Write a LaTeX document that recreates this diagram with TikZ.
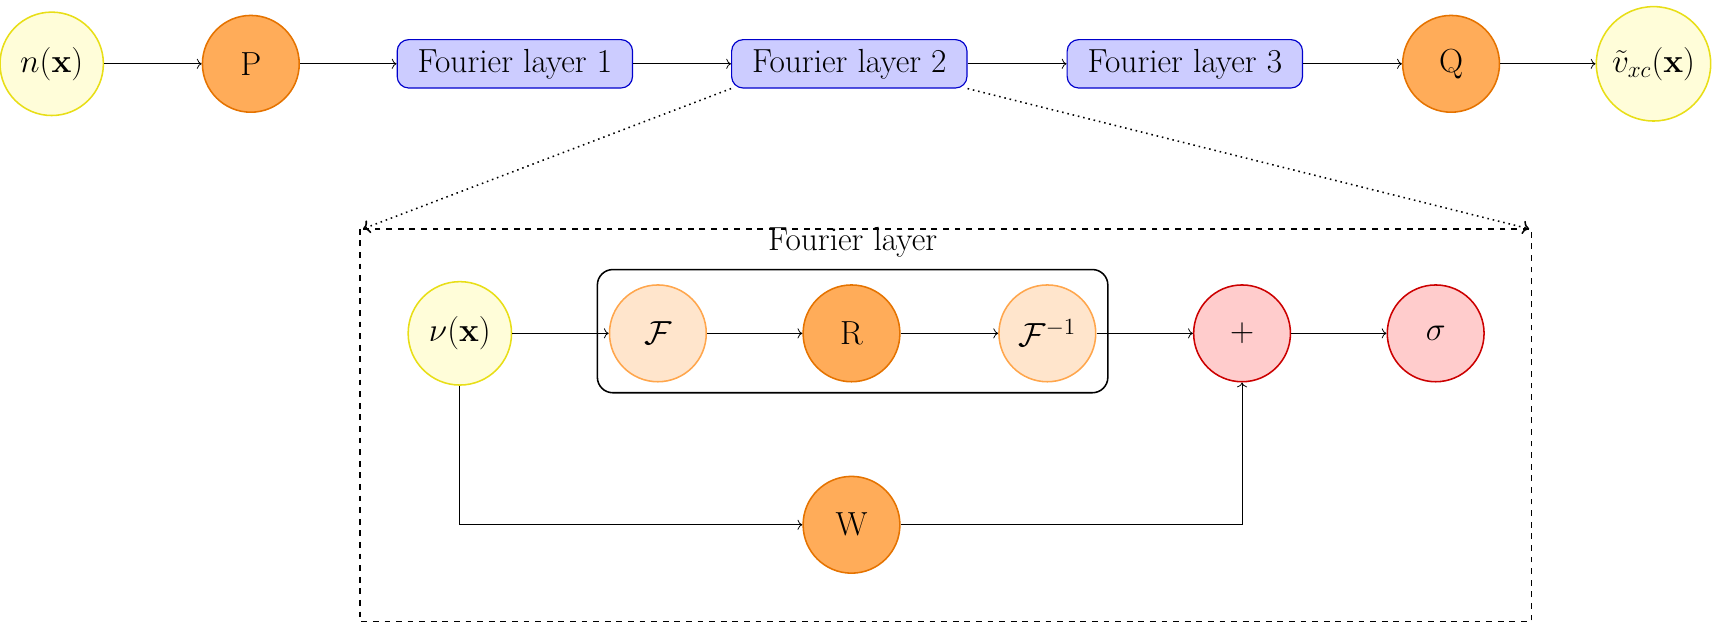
\documentclass[tikz,border=0pt]{standalone}
\usetikzlibrary{arrows.meta}
\begin{document}
\begin{tikzpicture}[x=0.02cm,y=-0.02cm,font=\LARGE,>=To,
 yel/.style={circle,draw=yellow!90!black,fill=yellow!15,line width=0.8pt,minimum size=1.88cm,inner sep=0pt},
 org/.style={circle,draw=orange!90!black,fill=orange!65,line width=0.8pt,minimum size=1.76cm,inner sep=0pt},
 lorg/.style={circle,draw=orange!70,fill=orange!20,line width=0.8pt,minimum size=1.76cm,inner sep=0pt},
 rd/.style={circle,draw=red!80!black,fill=red!20,line width=0.8pt,minimum size=1.76cm,inner sep=0pt},
 fl/.style={rectangle,rounded corners=6pt,draw=blue!80!black,fill=blue!20,line width=0.6pt,minimum width=4.28cm,minimum height=0.88cm}]
\node[yel] (n) at (47,58) {$n(\mathbf{x})$};
\node[org] (P) at (228,58) {P};
\node[fl] (f1) at (468,58) {Fourier layer 1};
\node[fl] (f2) at (772,58) {Fourier layer 2};
\node[fl] (f3) at (1077,58) {Fourier layer 3};
\node[org] (Q) at (1319,58) {Q};
\node[yel,minimum size=2.08cm] (v) at (1503,58) {$\tilde v_{xc}(\mathbf{x})$};
\draw[->] (n)--(P); \draw[->] (P)--(f1); \draw[->] (f1)--(f2); \draw[->] (f2)--(f3); \draw[->] (f3)--(Q); \draw[->] (Q)--(v);
\coordinate (dl) at (330,208); \coordinate (dr) at (1390,208);
\draw[dashed,line width=0.8pt] (327,208) rectangle (1392,565);
\draw[dotted,thick,->] (f2.south west)--(dl);
\draw[dotted,thick,->] (f2.south east)--(dr);
\node (lab) at (775,220) {Fourier layer};
\draw[rounded corners=8pt,line width=0.8pt] (543,245) rectangle (1007,357);
\node[yel] (nu) at (418,303) {$\nu(\mathbf{x})$};
\node[lorg] (F) at (598,303) {$\mathcal{F}$};
\node[org] (R) at (774,303) {R};
\node[lorg] (Fi) at (952,303) {$\mathcal{F}^{-1}$};
\node[rd] (pl) at (1129,303) {$+$};
\node[rd] (s) at (1305,303) {$\sigma$};
\node[org] (W) at (774,477) {W};
\draw[->] (nu)--(F); \draw[->] (F)--(R); \draw[->] (R)--(Fi); \draw[->] (Fi)--(pl); \draw[->] (pl)--(s);
\draw[->] (nu) |- (W);
\draw[->] (W) -| (pl);
\pgfresetboundingbox
\path[use as bounding box] (0,0) rectangle (1568,566);
\end{tikzpicture}
\end{document}
